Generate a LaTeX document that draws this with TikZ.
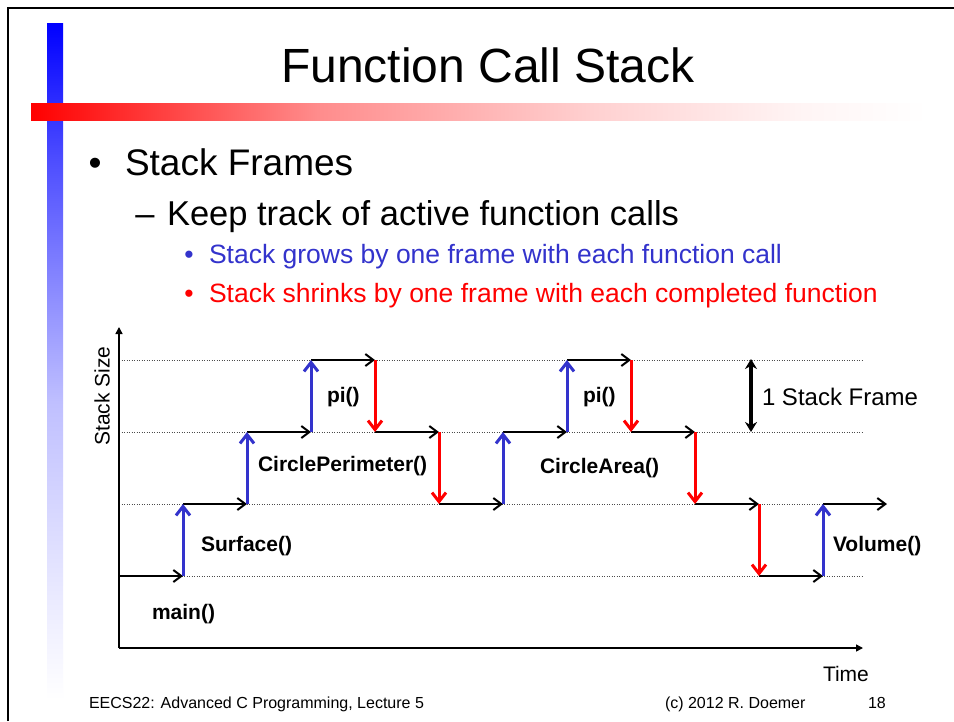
\documentclass[tikz,border=0pt]{standalone}
\usepackage{fontspec}
\setmainfont{Liberation Sans}
\usetikzlibrary{arrows.meta}
\definecolor{callblue}{RGB}{51,51,204}
\definecolor{retred}{RGB}{255,0,0}
\pgfdeclarehorizontalshading{redbarshade}{100bp}{color(0bp)=(red); color(25bp)=(red); color(41bp)=(red!45); color(56.5bp)=(red!18); color(68bp)=(red!4); color(75bp)=(white); color(100bp)=(white)}
\pgfdeclareverticalshading{bluebarshade}{100bp}{color(0bp)=(white); color(25bp)=(white); color(32.4bp)=(blue!8); color(47bp)=(blue!25); color(65bp)=(blue!70); color(75bp)=(blue); color(100bp)=(blue)}
\begin{document}
\begin{tikzpicture}[x=1pt,y=-1pt,
  txt/.style={inner sep=0pt, outer sep=0pt},
  lbl/.style={txt, anchor=base west, font=\fontsize{21}{21}\selectfont\bfseries},
  hstep/.style={draw=black, line width=2pt, -{Straight Barb[length=8pt,width=12pt]}},
  upstep/.style={draw=callblue, line width=3pt, -{Straight Barb[length=9pt,width=14pt]}},
  downstep/.style={draw=retred, line width=3pt, -{Straight Barb[length=9pt,width=14pt]}},
  gridline/.style={draw=black!70, line width=0.8pt, dash pattern=on 1pt off 1.5pt},
  axisline/.style={draw=black, line width=1.5pt, -{Triangle[length=7pt,width=7pt]}}
]
\useasboundingbox (0,0) rectangle (954,721);
\fill[white] (0,0) rectangle (954,721);
% frame
\draw[line width=2pt] (8,721) -- (8,8) -- (954,8);
% decorative bars
\shade[shading=bluebarshade] (47,23) rectangle (63,700);
\shade[shading=redbarshade] (31,103) rectangle (928,120);
% title
\node[txt, anchor=base, font=\fontsize{48}{48}\selectfont] (title) at (488,82) {Function Call Stack};
% bullets
\node[txt, anchor=base, font=\fontsize{37}{37}\selectfont] (b1) at (95,175) {•};
\node[txt, anchor=base west, font=\fontsize{37}{37}\selectfont] (t1) at (125,175) {Stack Frames};
\node[txt, anchor=base, font=\fontsize{34.5}{34.5}\selectfont] (b2) at (145,225) {–};
\node[txt, anchor=base west, font=\fontsize{34.5}{34.5}\selectfont] (t2) at (167,225) {Keep track of active function calls};
\node[txt, anchor=base, text=callblue, font=\fontsize{26.5}{26.5}\selectfont] (b3) at (189,263) {•};
\node[txt, anchor=base west, text=callblue, font=\fontsize{26.5}{26.5}\selectfont] (t3) at (209,263) {Stack grows by one frame with each function call};
\node[txt, anchor=base, text=retred, font=\fontsize{26.5}{26.5}\selectfont] (b4) at (189,302) {•};
\node[txt, anchor=base west, text=retred, font=\fontsize{26.5}{26.5}\selectfont] (t4) at (209,302) {Stack shrinks by one frame with each completed function};
% grid levels
\coordinate (g3a) at (119,360); \coordinate (g3b) at (862,360);
\coordinate (g2a) at (119,432); \coordinate (g2b) at (862,432);
\coordinate (g1a) at (119,504); \coordinate (g1b) at (862,504);
\coordinate (g0a) at (119,576); \coordinate (g0b) at (862,576);
\draw[gridline] (g3a) -- (g3b);
\draw[gridline] (g2a) -- (g2b);
\draw[gridline] (g1a) -- (g1b);
\draw[gridline] (g0a) -- (g0b);
% axes
\coordinate (origin) at (119,648);
\coordinate (ytop) at (119,327);
\coordinate (xend) at (863,648);
\draw[axisline] (origin) -- (ytop);
\draw[axisline] (origin) -- (xend);
\node[txt, rotate=90, font=\fontsize{21}{21}\selectfont] (ylabel) at (102,396) {Stack Size};
\node[txt, anchor=base west, font=\fontsize{21}{21}\selectfont] (xlabel) at (823,681) {Time};
% step corners
\coordinate (s0) at (119,576);
\coordinate (s1) at (183,576);
\coordinate (s2) at (183,504);
\coordinate (s3) at (247,504);
\coordinate (s4) at (247,432);
\coordinate (s5) at (311,432);
\coordinate (s6) at (311,360);
\coordinate (s7) at (375,360);
\coordinate (s8) at (375,432);
\coordinate (s9) at (439,432);
\coordinate (s10) at (439,504);
\coordinate (s11) at (503,504);
\coordinate (s12) at (503,432);
\coordinate (s13) at (567,432);
\coordinate (s14) at (567,360);
\coordinate (s15) at (631,360);
\coordinate (s16) at (631,432);
\coordinate (s17) at (695,432);
\coordinate (s18) at (695,504);
\coordinate (s19) at (759,504);
\coordinate (s20) at (759,576);
\coordinate (s21) at (823,576);
\coordinate (s22) at (823,504);
\coordinate (s23) at (887,504);
% horizontal (time) arrows
\draw[hstep] (s0) -- (s1);
\draw[hstep] (s2) -- (s3);
\draw[hstep] (s4) -- (s5);
\draw[hstep] (s6) -- (s7);
\draw[hstep] (s8) -- (s9);
\draw[hstep] (s10) -- (s11);
\draw[hstep] (s12) -- (s13);
\draw[hstep] (s14) -- (s15);
\draw[hstep] (s16) -- (s17);
\draw[hstep] (s18) -- (s19);
\draw[hstep] (s20) -- (s21);
\draw[hstep] (s22) -- (s23);
% calls
\draw[upstep] (s1) -- (s2);
\draw[upstep] (s3) -- (s4);
\draw[upstep] (s5) -- (s6);
\draw[upstep] (s11) -- (s12);
\draw[upstep] (s13) -- (s14);
\draw[upstep] (s21) -- (s22);
% returns
\draw[downstep] (s7) -- (s8);
\draw[downstep] (s9) -- (s10);
\draw[downstep] (s15) -- (s16);
\draw[downstep] (s17) -- (s18);
\draw[downstep] (s19) -- (s20);
% labels
\node[lbl] (lmain) at (152,619) {main()};
\node[lbl] (lsurf) at (201,551) {Surface()};
\node[lbl] (lperim) at (258,471) {CirclePerimeter()};
\node[lbl] (lpi1) at (327,402) {pi()};
\node[lbl] (lpi2) at (583,402) {pi()};
\node[lbl] (larea) at (540,473) {CircleArea()};
\node[lbl] (lvol) at (833,551) {Volume()};
% one stack frame
\coordinate (fa) at (751,359);
\coordinate (fb) at (751,432);
\draw[line width=4pt, {Stealth[length=10pt,width=12pt]}-{Stealth[length=10pt,width=12pt]}] (fa) -- (fb);
\node[txt, anchor=base west, font=\fontsize{24}{24}\selectfont] (lframe) at (762,405) {1 Stack Frame};
% footer
\node[txt, anchor=base west, font=\fontsize{16}{16}\selectfont] (f1) at (89,708) {EECS22: Advanced C Programming, Lecture 5};
\node[txt, anchor=base west, font=\fontsize{16}{16}\selectfont] (f2) at (665,708) {(c) 2012 R. Doemer};
\node[txt, anchor=base west, font=\fontsize{16}{16}\selectfont] (f3) at (868,708) {18};
\end{tikzpicture}
\end{document}
